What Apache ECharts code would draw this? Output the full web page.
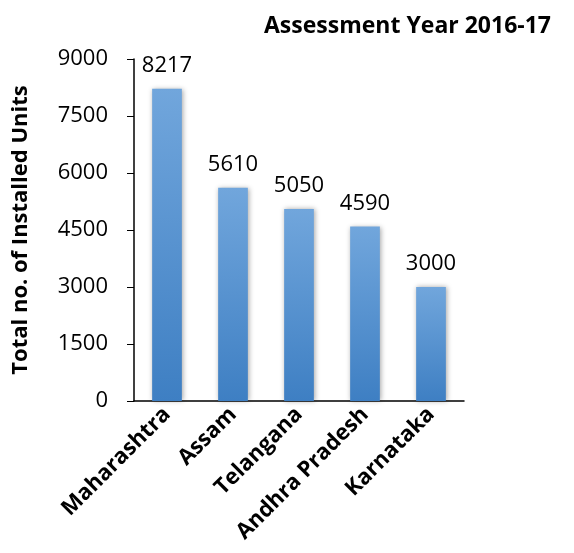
<!DOCTYPE html>
<html>
<head>
<meta charset="utf-8">
<script src="https://cdn.jsdelivr.net/npm/echarts@6/dist/echarts.min.js"></script>
<style>
  html, body { margin: 0; padding: 0; background: #fff; }
  #chart { width: 574px; height: 553px; }
</style>
</head>
<body>
<div id="chart"></div>
<script>
// 数据
var states = ['Maharashtra', 'Assam', 'Telangana', 'Andhra Pradesh', 'Karnataka'];
var units = [8217, 5610, 5050, 4590, 3000];
var yTicks = { min: 0, max: 9000, interval: 1500 };

var font = 'Open Sans';

var chart = echarts.init(document.getElementById('chart'));
chart.setOption({
    animation: false,
    title: {
        text: 'Assessment Year 2016-17',
        right: 18,
        top: 10,
        textStyle: { fontFamily: font, fontWeight: 'bold', fontSize: 23, color: '#000' }
    },
    grid: { left: 134, right: 110, top: 59, bottom: 152 },
    xAxis: {
        type: 'category',
        data: states,
        axisLine: { lineStyle: { color: '#000', width: 1.5 } },
        axisTick: { show: false },
        axisLabel: {
            rotate: 45,
            margin: 10,
            interval: 0,
            color: '#000',
            fontFamily: font,
            fontWeight: 'bold',
            fontSize: 22
        }
    },
    yAxis: {
        type: 'value',
        min: yTicks.min,
        max: yTicks.max,
        interval: yTicks.interval,
        name: 'Total no. of Installed Units',
        nameLocation: 'middle',
        nameGap: 102,
        nameTextStyle: { fontFamily: font, fontWeight: 'bold', fontSize: 22, color: '#000' },
        axisLine: { show: true, lineStyle: { color: '#000', width: 1.5 } },
        axisTick: { show: true, length: 7, lineStyle: { color: '#000' } },
        splitLine: { show: false },
        axisLabel: {
            color: '#000', fontFamily: font, fontSize: 22, margin: 26,
            formatter: function (v) { return String(v); }
        }
    },
    series: [{
        type: 'bar',
        data: units,
        barWidth: '45%',
        itemStyle: {
            color: new echarts.graphic.LinearGradient(0, 0, 0, 1, [
                { offset: 0, color: '#71a6dc' },
                { offset: 1, color: '#3e7fc3' }
            ]),
            shadowColor: 'rgba(0,0,0,0.35)',
            shadowBlur: 5,
            shadowOffsetX: 1
        },
        label: {
            show: true,
            position: 'top',
            distance: 12,
            color: '#000',
            fontFamily: font,
            fontSize: 22
        }
    }]
});
</script>
</body>
</html>
